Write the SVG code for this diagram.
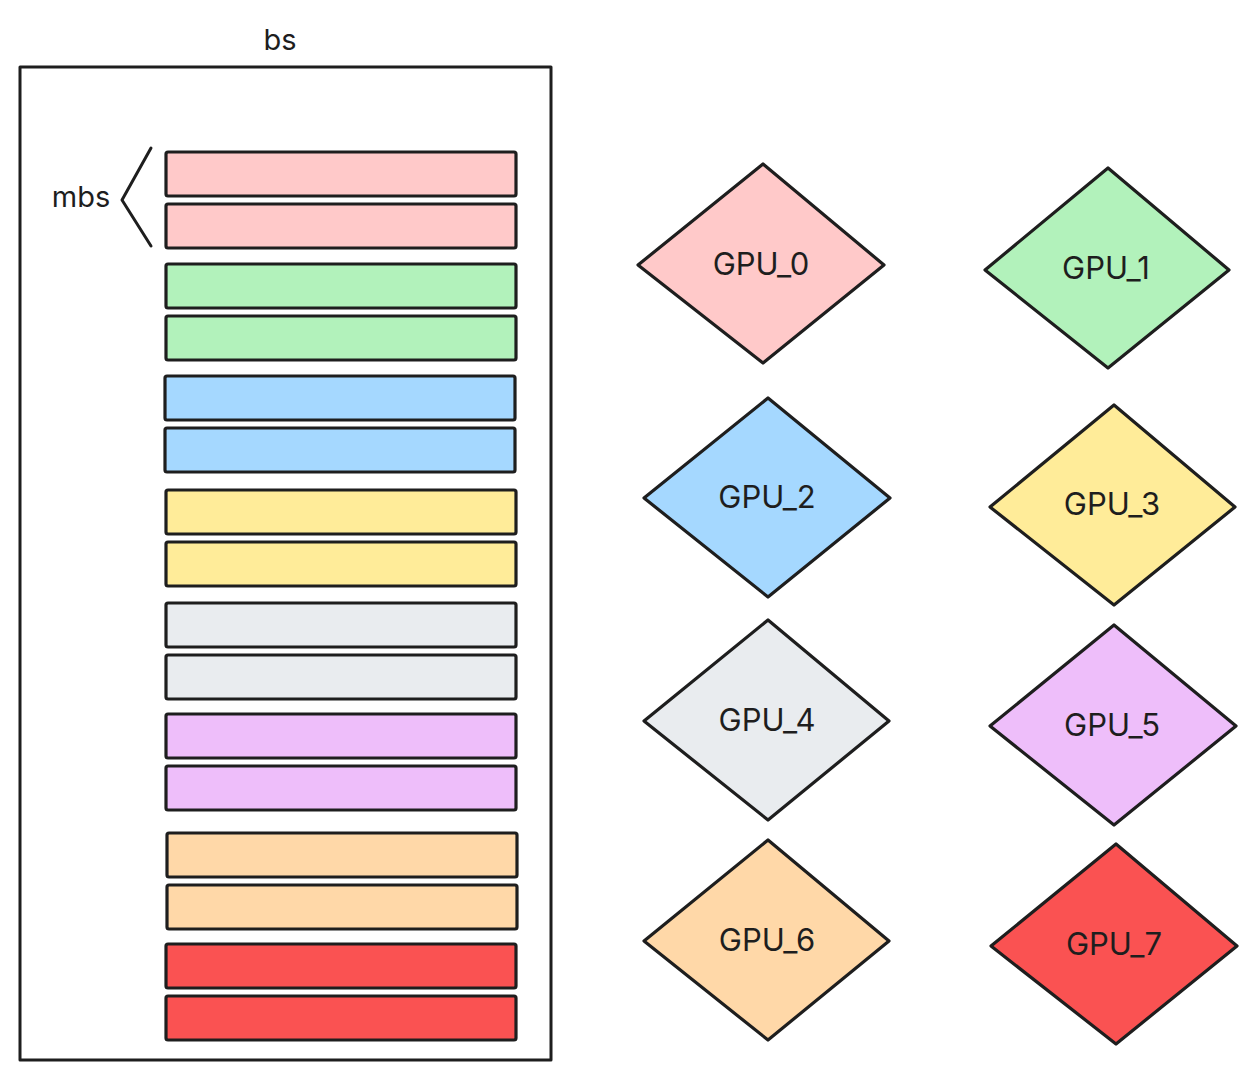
<svg xmlns="http://www.w3.org/2000/svg" width="1256" height="1080" viewBox="0 0 1256 1080">
<style>
.t{font-family:Inter,"Noto Sans","Liberation Sans",sans-serif;fill:#1e1e1e;text-anchor:middle}
.lbl{font-size:29px}
.glbl{font-size:31px}
.bar{stroke:#1e1e1e;stroke-width:3.2;stroke-linejoin:round}
.dia{stroke:#1e1e1e;stroke-width:3.2;stroke-linejoin:round}
.pink{fill:#ffc9c9}.green{fill:#b2f2bb}.blue{fill:#a5d8ff}.yellow{fill:#ffec99}
.gray{fill:#e9ecef}.purple{fill:#eebefa}.orange{fill:#ffd8a8}.red{fill:#fa5252}
</style>
<rect width="1256" height="1080" fill="#ffffff"/>
<g id="bs-box">
<rect x="20" y="67" width="531" height="993" fill="none" stroke="#1e1e1e" stroke-width="3" stroke-linejoin="round"/>
<text class="t lbl" x="280" y="50">bs</text>
</g>
<g id="mbs">
<text class="t lbl" x="81" y="207">mbs</text>
<polyline points="151,148 122,200 151,246" fill="none" stroke="#1e1e1e" stroke-width="3" stroke-linecap="round" stroke-linejoin="round"/>
</g>
<g id="bars">
<rect class="bar pink" x="166" y="152" width="350" height="44" rx="2"/>
<rect class="bar pink" x="166" y="204" width="350" height="44" rx="2"/>
<rect class="bar green" x="166" y="264" width="350" height="44" rx="2"/>
<rect class="bar green" x="166" y="316" width="350" height="44" rx="2"/>
<rect class="bar blue" x="165" y="376" width="350" height="44" rx="2"/>
<rect class="bar blue" x="165" y="428" width="350" height="44" rx="2"/>
<rect class="bar yellow" x="166" y="490" width="350" height="44" rx="2"/>
<rect class="bar yellow" x="166" y="542" width="350" height="44" rx="2"/>
<rect class="bar gray" x="166" y="603" width="350" height="44" rx="2"/>
<rect class="bar gray" x="166" y="655" width="350" height="44" rx="2"/>
<rect class="bar purple" x="166" y="714" width="350" height="44" rx="2"/>
<rect class="bar purple" x="166" y="766" width="350" height="44" rx="2"/>
<rect class="bar orange" x="167" y="833" width="350" height="44" rx="2"/>
<rect class="bar orange" x="167" y="885" width="350" height="44" rx="2"/>
<rect class="bar red" x="166" y="944" width="350" height="44" rx="2"/>
<rect class="bar red" x="166" y="996" width="350" height="44" rx="2"/>
</g>
<g id="gpu0"><polygon class="dia pink" points="763,164 884,265 763,363 638,265"/><text class="t glbl" x="761" y="275">GPU_0</text></g>
<g id="gpu1"><polygon class="dia green" points="1108,168 1229,270 1108,368 985,270"/><text class="t glbl" x="1106" y="279">GPU_1</text></g>
<g id="gpu2"><polygon class="dia blue" points="768,398 890,498 768,597 644,498"/><text class="t glbl" x="767" y="508">GPU_2</text></g>
<g id="gpu3"><polygon class="dia yellow" points="1114,405 1235,507 1114,605 990,507"/><text class="t glbl" x="1112" y="515">GPU_3</text></g>
<g id="gpu4"><polygon class="dia gray" points="768,620 889,721 768,820 644,721"/><text class="t glbl" x="767" y="731">GPU_4</text></g>
<g id="gpu5"><polygon class="dia purple" points="1114,625 1236,726 1114,825 990,726"/><text class="t glbl" x="1112" y="736">GPU_5</text></g>
<g id="gpu6"><polygon class="dia orange" points="768,840 889,941 768,1040 644,941"/><text class="t glbl" x="767" y="951">GPU_6</text></g>
<g id="gpu7"><polygon class="dia red" points="1116,844 1237,946 1116,1044 991,946"/><text class="t glbl" x="1114" y="955">GPU_7</text></g>
<g id="connectors"></g>
</svg>
